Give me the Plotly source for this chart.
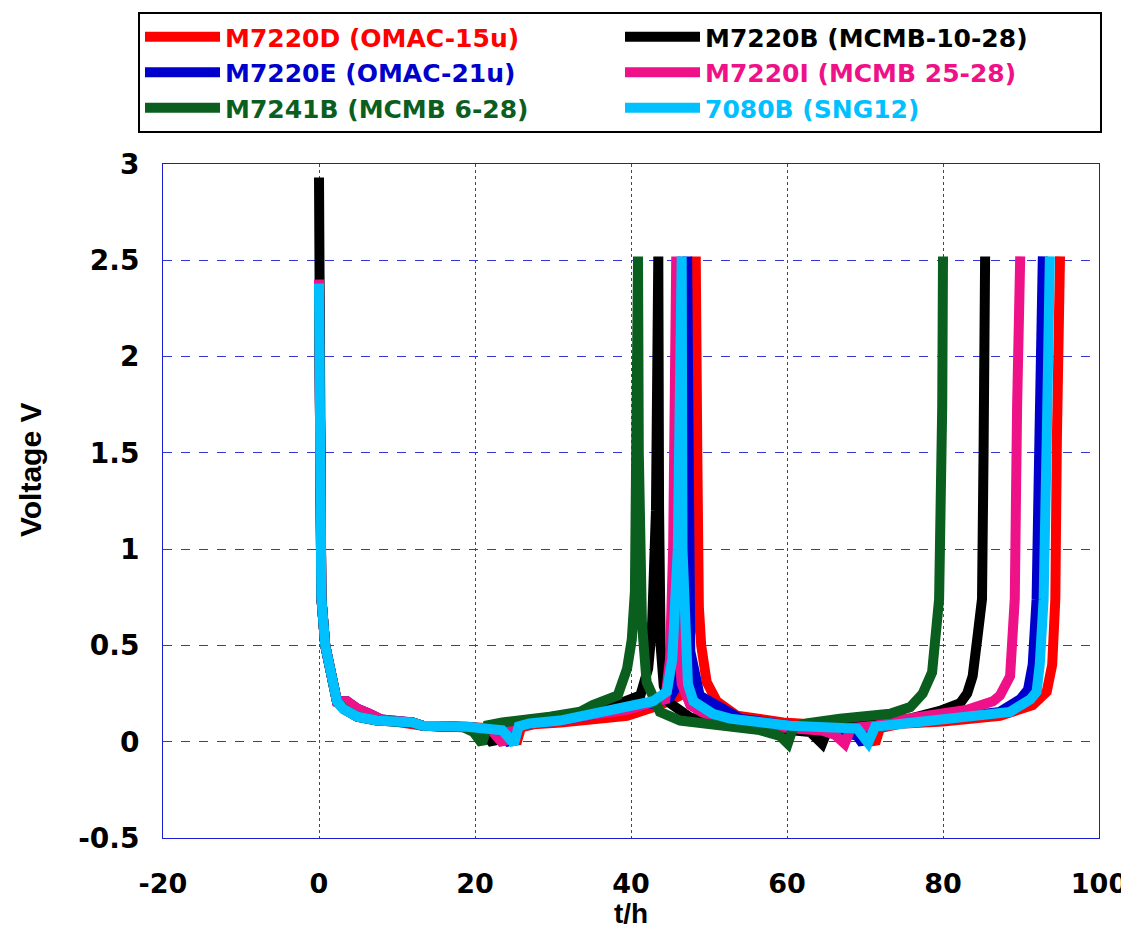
import plotly.graph_objects as go

# ---- data (t in h, voltage in V) ----
series_names = ["M7220D (OMAC-15u)", "M7220B (MCMB-10-28)", "M7220E (OMAC-21u)",
                "M7220I (MCMB 25-28)", "M7241B (MCMB 6-28)", "7080B (SNG12)"]
series_colors = ["#ff0000", "#000000", "#0000cc", "#ee1188", "#0a5e1e", "#00c0ff"]

red_pts = [(0, 2.38), (0.02, 1.0), (0.3, 0.75), (0.8, 0.5), (2.3, 0.21), (3.4, 0.19), (5.5, 0.14),
           (8, 0.115), (12, 0.10), (13.3, 0.083), (19, 0.078), (22.5, 0.068), (24.5, 0.045), (25.3, -0.01),
           (25.9, 0.075), (27.5, 0.09), (31, 0.10), (36, 0.115), (39.5, 0.135), (43.7, 0.19), (45.4, 0.22),
           (46.3, 0.24), (47.3, 0.43), (47.9, 0.7), (48.2, 1.5), (48.3, 2.52), (48.5, 1.5), (48.7, 0.7),
           (49.0, 0.5), (49.7, 0.31), (51.0, 0.21), (53.6, 0.135), (59.5, 0.10), (65.0, 0.085), (69.0, 0.068),
           (70.6, 0.03), (71.3, -0.01), (71.9, 0.07), (74.5, 0.093), (80.0, 0.105), (87.3, 0.135), (91.5, 0.19),
           (93.3, 0.26), (94.0, 0.4), (94.4, 0.74), (94.6, 1.57), (95.0, 2.52)]

black_pts = [(0, 2.93), (0.02, 1.0), (0.3, 0.75), (0.8, 0.5), (2.3, 0.21), (3.2, 0.17), (4.9, 0.13),
             (7.4, 0.11), (12, 0.10), (13.3, 0.083), (19, 0.075), (21.0, 0.055), (22.3, -0.01), (22.9, 0.075),
             (24.5, 0.09), (30, 0.11), (34, 0.135), (37.3, 0.18), (41.2, 0.24), (42.2, 0.38), (42.7, 0.6),
             (43.2, 1.2), (43.5, 2.52), (43.6, 1.2), (43.8, 0.5), (44.2, 0.29), (45.0, 0.2), (47.6, 0.125),
             (52.3, 0.09), (56.5, 0.075), (63, 0.05), (64.5, -0.01), (65.3, 0.07), (70, 0.1), (75.8, 0.12),
             (79.6, 0.16), (82.2, 0.2), (83.1, 0.25), (83.8, 0.34), (84.5, 0.57), (85.0, 0.74), (85.2, 1.5),
             (85.4, 2.52)]

blue_pts = [(0, 2.38), (0.02, 1.0), (0.3, 0.75), (0.8, 0.5), (2.3, 0.21), (3.6, 0.21), (5, 0.17),
            (6.5, 0.145), (8, 0.115), (12, 0.10), (13.3, 0.083), (19, 0.076), (23.0, 0.06), (24.5, -0.01),
            (25.2, 0.08), (26.8, 0.095), (31, 0.11), (35, 0.14), (39.5, 0.17), (43, 0.2), (45.0, 0.23),
            (45.9, 0.29), (46.5, 0.5), (46.9, 1.0), (47.2, 2.52), (47.3, 1.0), (47.6, 0.47), (48.8, 0.24),
            (51.0, 0.19), (51.8, 0.17), (54.0, 0.12), (60.4, 0.083), (66.8, 0.057), (69.0, 0.03), (69.7, -0.01),
            (70.4, 0.07), (74.5, 0.1), (80, 0.12), (87.3, 0.155), (89.9, 0.22), (90.9, 0.27), (91.5, 0.4),
            (92.0, 0.74), (92.4, 1.66), (92.8, 2.52)]

magenta_pts = [(0, 2.4), (0.02, 1.0), (0.3, 0.75), (0.8, 0.5), (2.3, 0.21), (3.6, 0.21), (5, 0.17),
               (6.5, 0.145), (8, 0.115), (12, 0.10), (13.3, 0.083), (19, 0.075), (22.2, 0.055), (23.6, -0.01),
               (24.3, 0.08), (26, 0.095), (31, 0.11), (35, 0.14), (39.5, 0.165), (42.5, 0.2), (44.4, 0.22),
               (45.0, 0.43), (45.4, 1.0), (45.8, 2.52), (45.9, 1.0), (46.1, 0.5), (46.5, 0.3), (47.6, 0.19),
               (49.0, 0.155), (51.0, 0.12), (56.2, 0.085), (64.6, 0.057), (66.2, 0.035), (67.4, -0.01),
               (68.2, 0.07), (71.5, 0.085), (74.5, 0.115), (83, 0.165), (86.4, 0.21), (87.3, 0.24), (88.6, 0.34),
               (89.0, 0.57), (89.2, 0.74), (89.5, 1.74), (89.9, 2.52)]

green_pts = [(0, 2.38), (0.02, 1.0), (0.3, 0.75), (0.8, 0.5), (2.3, 0.21), (3.2, 0.17), (4.9, 0.13),
             (7.4, 0.11), (12, 0.10), (13.3, 0.083), (18.5, 0.075), (19.8, 0.05), (20.9, -0.01), (21.6, 0.085),
             (23.5, 0.1), (29.6, 0.13), (33.5, 0.156), (35.1, 0.19), (38.3, 0.24), (39.5, 0.38), (40.1, 0.53),
             (40.5, 0.78), (40.7, 1.5), (40.9, 2.52), (41.0, 1.5), (41.2, 0.8), (41.4, 0.62), (42.0, 0.31),
             (43.7, 0.155), (46.3, 0.11), (52.7, 0.08), (56.5, 0.06), (59.1, 0.03), (60.1, -0.01), (60.8, 0.075),
             (62.5, 0.095), (66.8, 0.12), (73.2, 0.145), (75.8, 0.18), (77.4, 0.25), (78.6, 0.36), (79.2, 0.57),
             (79.5, 0.74), (79.9, 1.74), (80.0, 2.52)]

cyan_pts = [(0, 2.38), (0.02, 1.0), (0.3, 0.75), (0.8, 0.5), (2.3, 0.21), (3.1, 0.17), (4.9, 0.13),
            (7.4, 0.11), (12, 0.10), (13.3, 0.083), (19, 0.078), (23.5, 0.06), (25.0, -0.01), (25.6, 0.08),
            (27, 0.095), (30.9, 0.11), (35.1, 0.145), (39.5, 0.18), (42.8, 0.21), (44.6, 0.26), (45.3, 0.43),
            (46.0, 1.0), (46.5, 2.52), (46.6, 1.0), (46.9, 0.5), (47.3, 0.3), (48.0, 0.21), (49.7, 0.17),
            (50.5, 0.145), (52.7, 0.12), (60.4, 0.083), (69.0, 0.068), (69.6, 0.04), (70.4, -0.005), (71.3, 0.078),
            (75.8, 0.1), (83, 0.135), (88.6, 0.155), (91.2, 0.22), (92.0, 0.26), (92.4, 0.4), (92.9, 0.74),
            (93.3, 1.57), (93.7, 2.52)]

all_pts = [red_pts, black_pts, blue_pts, magenta_pts, green_pts, cyan_pts]

x_ticks = [-20, 0, 20, 40, 60, 80, 100]
x_tick_labels = ["-20", "0", "20", "40", "60", "80", "100"]
y_ticks = [-0.5, 0, 0.5, 1, 1.5, 2, 2.5, 3]
y_tick_labels = ["-0.5", "0", "0.5", "1", "1.5", "2", "2.5", "3"]
x_title = "t/h"
y_title = "Voltage V"

fig = go.Figure()
for name, color, pts in zip(series_names, series_colors, all_pts):
    t = [p[0] for p in pts]
    v = [p[1] for p in pts]
    fig.add_trace(go.Scatter(
        x=t, y=v, mode="lines",
        line=dict(color=color, width=10),
        name=f'<span style="color:{color}">{name}</span>',
    ))

# the page adds an 8px body margin, so the figure is laid out 8px up/left
PL, PT, PW, PH = 155, 156, 936, 674
grid_col = "#3434d8"
fig.update_layout(
    width=1129, height=930,
    margin=dict(l=PL, r=1129 - PL - PW, t=PT, b=930 - PT - PH, autoexpand=False),
    plot_bgcolor="white", paper_bgcolor="white",
    legend=dict(
        orientation="h",
        x=(130 - PL) / PW, y=1 + (PT - 4) / PH, xanchor="left", yanchor="top",
        entrywidth=390, entrywidthmode="pixels",
        itemwidth=75,
        bordercolor="black", borderwidth=2,
        font=dict(family="DejaVu Sans", size=25, weight="bold"),
    ),
    xaxis=dict(
        range=[-20, 100], tickmode="array", tickvals=x_ticks, ticktext=x_tick_labels,
        showgrid=True, gridcolor=grid_col, griddash="dot", gridwidth=1,
        zeroline=False, showline=True, linecolor="#1a1ad0", linewidth=1, mirror=True,
        ticks="", ticklabelstandoff=22, automargin=False,
        tickfont=dict(family="DejaVu Sans", size=27, color="black", weight="bold"),
    ),
    yaxis=dict(
        range=[-0.5, 3], tickmode="array", tickvals=y_ticks, ticktext=y_tick_labels,
        showgrid=True, gridcolor=grid_col, griddash="dash", gridwidth=1,
        zeroline=False, showline=True, linecolor="#1a1ad0", linewidth=1, mirror=True,
        ticks="", ticklabelstandoff=17, automargin=False,
        tickfont=dict(family="DejaVu Sans", size=28, color="black", weight="bold"),
    ),
    annotations=[
        dict(text=x_title, xref="paper", yref="paper", x=0.5, y=-(905 - PT - PH) / PH,
             xanchor="center", yanchor="middle", showarrow=False,
             font=dict(family="Liberation Sans", size=28, color="black", weight="bold")),
        dict(text=y_title, xref="paper", yref="paper", x=(22 - PL) / PW, y=(PT + PH - 462) / PH,
             xanchor="center", yanchor="middle", showarrow=False, textangle=-90,
             font=dict(family="Liberation Sans", size=30, color="black", weight="bold")),
    ],
)

fig.write_html("out.html")
